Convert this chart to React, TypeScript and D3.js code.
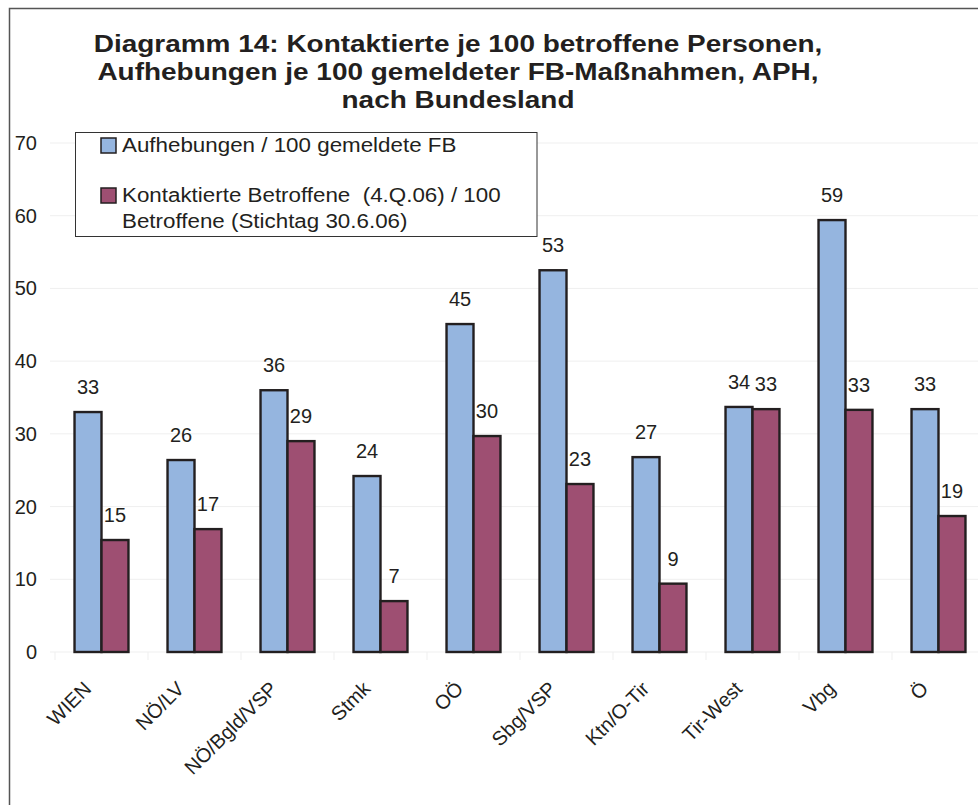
import React from "react";
import * as d3 from "d3";

const categories = ["WIEN", "NÖ/LV", "NÖ/Bgld/VSP", "Stmk", "OÖ", "Sbg/VSP", "Ktn/O-Tir", "Tir-West", "Vbg", "Ö"];
const aufhebungen = [33.0, 26.4, 36.0, 24.2, 45.1, 52.5, 26.8, 33.7, 59.4, 33.4];
const kontaktierte = [15.4, 16.9, 29.0, 7.0, 29.7, 23.1, 9.4, 33.4, 33.3, 18.7];
const seriesNames = ["Aufhebungen / 100 gemeldete FB", "Kontaktierte Betroffene  (4.Q.06) / 100", "Betroffene (Stichtag 30.6.06)"];
const titleLines = [
  "Diagramm 14: Kontaktierte je 100 betroffene Personen,",
  "Aufhebungen je 100 gemeldeter FB-Maßnahmen, APH,",
  "nach Bundesland",
];
const yTicks = [0, 10, 20, 30, 40, 50, 60, 70];

const W = 978;
const H = 805;
const FONT = "'Liberation Sans', Arial, Helvetica, sans-serif";
const TEXT = "#231f20";
const BLUE = "#95b5df";
const RED = "#9e4f72";
const STROKE = "#231f20";

export default function App() {
  const x0 = d3.scaleBand<string>().domain(categories).range([55, 985]).paddingInner(0.42).paddingOuter(0.21);
  const x1 = d3.scaleBand<number>().domain([0, 1]).range([0, x0.bandwidth()]);
  const y = d3.scaleLinear().domain([0, 70]).range([652, 143]);
  const series = [aufhebungen, kontaktierte];
  const colors = [BLUE, RED];
  const step = x0.step();
  const bandStart = (c: string) => (x0(c) as number) - (step - x0.bandwidth()) / 2;

  return (
    <svg width={W} height={H} style={{ position: "absolute", left: 0, top: 0, background: "#fff" }} fontFamily={FONT}>
      <rect x={0} y={0} width={W} height={H} fill="#fff" />
      <rect x={9.5} y={8.5} width={1200} height={1200} fill="none" stroke="#555" strokeWidth={1.5} />

      {/* title */}
      {titleLines.map((t, i) => (
        <text key={i} transform={`translate(458,${52 + i * 28}) scale(1.165,1)`} textAnchor="middle" fontWeight="bold" fontSize={24} fill={TEXT}>
          {t}
        </text>
      ))}

      {/* gridlines */}
      {yTicks.map((t) => (
        <g key={t}>
          <line x1={50} x2={985} y1={y(t)} y2={y(t)} stroke="#efefef" strokeWidth={1} />
          <text x={37} y={y(t) + 7} textAnchor="end" fontSize={20} fill={TEXT}>
            {t}
          </text>
        </g>
      ))}
      {categories.map((c) => (
        <line key={"tk" + c} x1={bandStart(c)} x2={bandStart(c)} y1={652} y2={660} stroke="#efefef" />
      ))}

      {/* bars */}
      {categories.map((c, i) => (
        <g key={c}>
          {series.map((s, k) => {
            const bx = (x0(c) as number) + (x1(k) as number);
            const bw = x1.bandwidth();
            return (
              <g key={k}>
                <rect x={bx} y={y(s[i])} width={bw} height={y(0) - y(s[i])} fill={colors[k]} stroke={STROKE} strokeWidth={2.4} />
                <text x={bx + bw / 2} y={y(s[i]) - 18} textAnchor="middle" fontSize={20} fill={TEXT}>
                  {Math.round(s[i])}
                </text>
              </g>
            );
          })}
          <text
            transform={`translate(${(x0(c) as number) + x0.bandwidth() / 2 - 9},690) rotate(-45)`}
            textAnchor="end"
            fontSize={20}
            fill={TEXT}
          >
            {c}
          </text>
        </g>
      ))}

      {/* legend */}
      <rect x={75.5} y={132.5} width={461.5} height={104} fill="#fff" stroke="#333" strokeWidth={1} />
      <rect x={101} y={138} width={15} height={15} fill={BLUE} stroke={STROKE} strokeWidth={1.5} />
      <rect x={101} y={188} width={15} height={15} fill={RED} stroke={STROKE} strokeWidth={1.5} />
      <text transform="translate(122,152) scale(1.065,1)" fontSize={21} fill={TEXT}>{seriesNames[0]}</text>
      <text transform="translate(122,202) scale(1.065,1)" fontSize={21} fill={TEXT} style={{ whiteSpace: "pre" }}>{seriesNames[1]}</text>
      <text transform="translate(122,228) scale(1.065,1)" fontSize={21} fill={TEXT}>{seriesNames[2]}</text>
    </svg>
  );
}
